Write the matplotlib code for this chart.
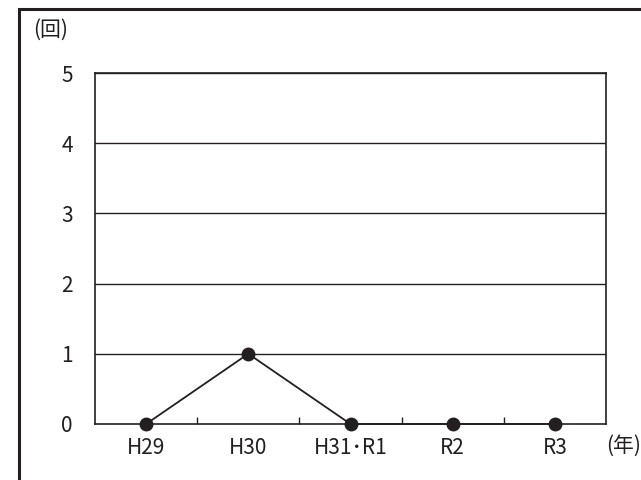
import matplotlib.pyplot as plt
from matplotlib.patches import Rectangle

plt.rcParams['font.family'] = ['Noto Sans CJK JP', 'DejaVu Sans']

years = ["H29", "H30", "H31･R1", "R2", "R3"]
counts = [0, 1, 0, 0, 0]
y_ticks = [0, 1, 2, 3, 4, 5]

fig = plt.figure(figsize=(6.41, 4.8), dpi=100)
ax = fig.add_axes([95 / 641, 1 - 424 / 480, (606 - 95) / 641, (424 - 73) / 480])

# outer frame (right and bottom edges fall outside the picture)
fig.patches.append(Rectangle((19 / 641, -0.1), 1.2, 1 - 9 / 480 + 0.1,
                             transform=fig.transFigure, fill=False,
                             edgecolor="#231f20", linewidth=2.2, zorder=0))

x = range(len(years))
ax.plot(x, counts, color="#231f20", linewidth=1.3, marker="o",
        markersize=9, clip_on=False, zorder=3)

ax.set_xlim(-0.5, len(years) - 0.5)
ax.set_ylim(0, 5)
ax.set_yticks(y_ticks)
for v in y_ticks[1:]:
    ax.axhline(v, color="#231f20", linewidth=1.0, zorder=1)

ax.set_xticks(list(x))
ax.set_xticklabels(years)
ax.set_xticks([i + 0.5 for i in range(len(years) - 1)], minor=True)
ax.tick_params(axis="x", which="major", length=0, pad=9, labelsize=15, colors="#231f20")
ax.tick_params(axis="x", which="minor", direction="in", length=5, width=1, color="#231f20")
ax.tick_params(axis="y", length=0, pad=16, labelsize=15, labelcolor="#231f20")

for s in ax.spines.values():
    s.set_color("#231f20")
    s.set_linewidth(1.2)

fig.text(33 / 641, 1 - 30 / 480, "(回)", fontsize=15, color="#231f20", va="center")
fig.text(606 / 641, 1 - 446 / 480, "(年)", fontsize=15, color="#231f20", va="center")

fig.savefig("out.png", dpi=100)
